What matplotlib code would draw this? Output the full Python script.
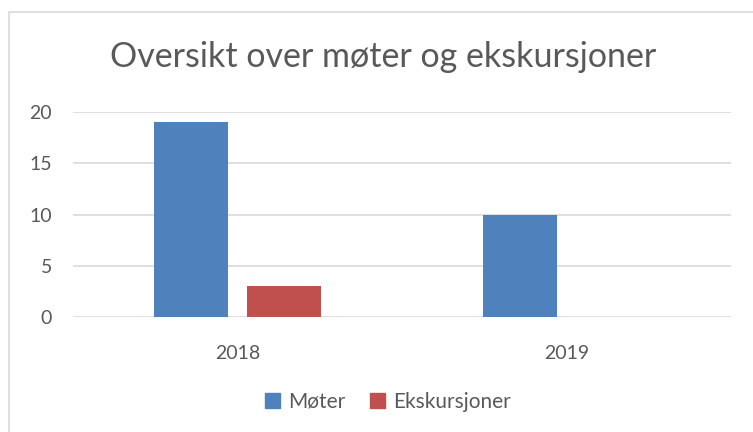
import numpy as np
import matplotlib
matplotlib.use("Agg")
import matplotlib.pyplot as plt
from matplotlib.patches import Rectangle, Patch

# Data
years = ["2018", "2019"]
moter = [19, 10]
ekskursjoner = [3, 0]

blue = "#4F81BD"
red = "#C0504D"
text_col = "#595959"
grid_col = "#D9D9D9"

plt.rcParams["font.family"] = ["Lato", "DejaVu Sans"]

fig = plt.figure(figsize=(7.53, 4.32), dpi=100)

# outer chart frame (clipped at right/bottom like the screenshot)
fig.patches.append(Rectangle((9 / 753, -0.1), 1.2, 1 - 12 / 432 + 0.1,
                             transform=fig.transFigure, fill=False,
                             edgecolor=grid_col, linewidth=1.2))

ax = fig.add_axes([73 / 753, 1 - 317 / 432, (731 - 73) / 753, (317 - 112) / 432])

x = np.arange(len(years))
w = 0.225
ax.bar(x - 0.142, moter, w, color=blue, label="Møter", zorder=3)
ax.bar(x + 0.142, ekskursjoner, w, color=red, label="Ekskursjoner", zorder=3)

ax.set_xlim(-0.5, 1.5)
ax.set_ylim(0, 20)
ax.set_yticks([0, 5, 10, 15, 20])
ax.set_xticks(x)
ax.set_xticklabels(years)

for s in ax.spines.values():
    s.set_visible(False)
ax.yaxis.grid(True, color=grid_col, linewidth=1.2, zorder=0)
ax.set_axisbelow(True)
ax.tick_params(axis="both", length=0, labelsize=14, colors=text_col)
ax.tick_params(axis="y", pad=15)
ax.tick_params(axis="x", pad=20)

fig.text(383 / 753, 1 - 57 / 432, "Oversikt over møter og ekskursjoner",
         ha="center", va="center", fontsize=24.5, color=text_col)

handles = [Patch(color=blue, label="Møter"), Patch(color=red, label="Ekskursjoner")]
fig.legend(handles=handles, loc="center", bbox_to_anchor=(388 / 753, 1 - 402 / 432),
           ncol=2, frameon=False, fontsize=15, labelcolor=text_col,
           handlelength=0.7, handleheight=0.7, handletextpad=0.4,
           columnspacing=1.2)

fig.savefig("out.png", dpi=100)
